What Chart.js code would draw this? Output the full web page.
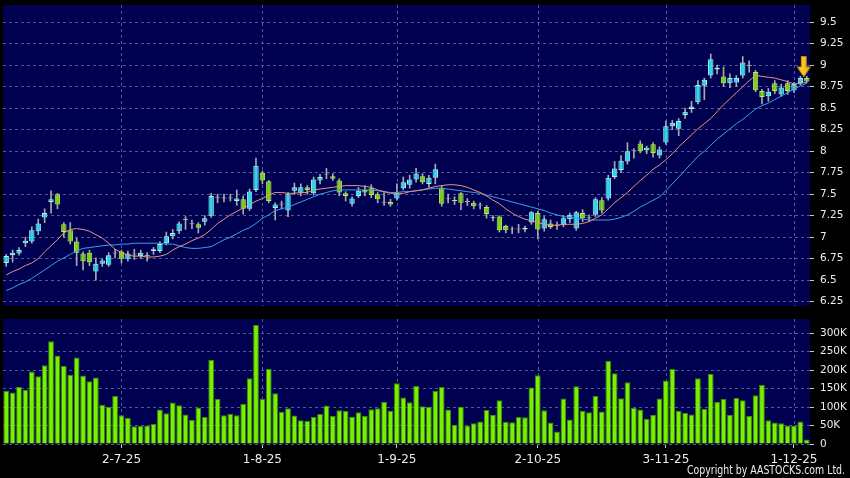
<!DOCTYPE html>
<html>
<head>
<meta charset="utf-8">
<script src="https://cdn.jsdelivr.net/npm/chart.js@4.4.1/dist/chart.umd.min.js"></script>
<style>
  html, body { margin: 0; padding: 0; background: #000; }
  #wrap { position: relative; width: 850px; height: 478px; }
  #top { position: absolute; left: 0; top: 0; width: 850px; height: 312px; }
  #bot { position: absolute; left: 0; top: 312px; width: 850px; height: 166px; }
</style>
</head>
<body>
<div id="wrap">
  <div id="top"><canvas id="priceChart"></canvas></div>
  <div id="bot"><canvas id="volChart"></canvas></div>
</div>
<script>
// trading days per month (2025)
const jun = [5, 6, 9, 10, 11, 12, 13, 16, 17, 18, 19, 20, 23, 24, 25, 26, 27, 30];
const jul = [2, 3, 4, 7, 8, 9, 10, 11, 14, 15, 16, 17, 18, 21, 22, 23, 24, 25, 28, 29, 30, 31];
const aug = [1, 4, 5, 6, 7, 8, 11, 12, 13, 14, 15, 18, 19, 20, 21, 22, 25, 26, 27, 28, 29];
const sep = [1, 2, 3, 4, 5, 8, 9, 10, 11, 12, 15, 16, 17, 18, 19, 22, 23, 24, 25, 26, 29, 30];
const oct = [2, 3, 6, 8, 9, 10, 13, 14, 15, 16, 17, 20, 21, 22, 23, 24, 27, 28, 30, 31];
const nov = [3, 4, 5, 6, 7, 10, 11, 12, 13, 14, 17, 18, 19, 20, 21, 24, 25, 26, 27, 28];
const dec = [1, 2, 3];

const opens = [6.70,6.79,6.81,6.93,6.95,7.07,7.23,7.41,7.50,7.15, 7.08,6.95,6.81,6.82,6.60,6.69,6.68,6.81,6.83,6.75,
  6.80,6.78,6.78,6.84,6.84,6.93,7.01,7.07,7.20,7.15, 7.15,7.18,7.25,7.46,7.45,7.45,7.42,7.44,7.33,7.55,
  7.75,7.65,7.34,7.38,7.31,7.54,7.51,7.58,7.51,7.66, 7.73,7.71,7.66,7.51,7.39,7.48,7.55,7.57,7.50,7.40,
  7.41,7.45,7.57,7.61,7.67,7.71,7.62,7.69,7.57,7.44, 7.43,7.51,7.41,7.40,7.37,7.35,7.22,7.24,7.13,7.09,
  7.09,7.09,7.17,7.28,7.10,7.16,7.13,7.14,7.21,7.10, 7.28,7.22,7.26,7.43,7.45,7.70,7.78,7.88,8.00,8.09,
  8.01,8.08,7.95,8.10,8.29,8.26,8.42,8.49,8.57,8.76, 8.88,8.95,8.87,8.79,8.80,8.88,8.99,8.92,8.70,8.64,
  8.79,8.66,8.79,8.71,8.79,8.85];
const highs = [6.80,6.85,6.88,7.00,7.12,7.21,7.33,7.54,7.51,7.17, 7.17,6.99,6.83,6.85,6.76,6.75,6.82,6.86,6.85,6.84,
  6.86,6.85,6.82,6.88,6.95,7.06,7.09,7.18,7.24,7.20, 7.17,7.25,7.51,7.50,7.50,7.50,7.55,7.48,7.56,7.92,
  7.77,7.66,7.40,7.42,7.52,7.63,7.62,7.60,7.70,7.73, 7.80,7.74,7.68,7.53,7.47,7.58,7.60,7.61,7.52,7.52,
  7.44,7.62,7.70,7.72,7.80,7.74,7.72,7.85,7.60,7.50, 7.47,7.52,7.45,7.42,7.40,7.37,7.25,7.25,7.14,7.12,
  7.15,7.13,7.30,7.30,7.24,7.20,7.18,7.25,7.28,7.30, 7.32,7.26,7.46,7.46,7.72,7.88,7.95,8.10,8.03,8.12,
  8.06,8.10,8.05,8.35,8.36,8.38,8.50,8.58,8.82,8.85, 9.13,9.00,8.98,8.90,8.88,9.10,9.05,8.94,8.72,8.73,
  8.82,8.78,8.82,8.80,8.87,8.87];
const lows = [6.66,6.71,6.79,6.89,6.93,7.03,7.17,7.28,7.33,7.00, 6.92,6.67,6.62,6.67,6.50,6.66,6.66,6.76,6.70,6.72,
  6.74,6.75,6.72,6.80,6.82,6.91,6.98,7.04,7.09,7.10, 7.05,7.14,7.23,7.40,7.41,7.42,7.37,7.27,7.31,7.53,
  7.62,7.40,7.20,7.33,7.24,7.50,7.48,7.50,7.49,7.62, 7.68,7.66,7.48,7.42,7.36,7.46,7.48,7.46,7.40,7.37,
  7.36,7.43,7.55,7.57,7.64,7.62,7.58,7.62,7.36,7.40, 7.38,7.32,7.37,7.33,7.33,7.22,7.19,7.06,7.05,7.04,
  7.05,7.06,7.15,6.98,7.07,7.10,7.09,7.12,7.17,7.08, 7.18,7.18,7.24,7.28,7.43,7.68,7.75,7.85,7.92,7.98,
  7.97,7.93,7.92,8.08,8.25,8.18,8.38,8.45,8.55,8.60, 8.85,8.90,8.75,8.74,8.75,8.85,8.92,8.69,8.55,8.58,
  8.67,8.64,8.66,8.68,8.77,8.80];
const closes = [6.78,6.82,6.85,6.96,7.08,7.16,7.28,7.44,7.38,7.06, 6.95,6.82,6.72,6.71,6.69,6.73,6.79,6.81,6.75,6.81,
  6.80,6.82,6.78,6.86,6.92,7.01,7.05,7.16,7.20,7.15, 7.11,7.22,7.48,7.46,7.46,7.45,7.45,7.33,7.53,7.83,
  7.66,7.42,7.38,7.38,7.50,7.58,7.58,7.55,7.67,7.70, 7.73,7.68,7.52,7.48,7.45,7.54,7.52,7.49,7.44,7.40,
  7.38,7.51,7.64,7.67,7.74,7.64,7.69,7.79,7.39,7.44, 7.42,7.40,7.41,7.36,7.37,7.27,7.23,7.08,7.08,7.09,
  7.09,7.11,7.29,7.09,7.21,7.12,7.13,7.22,7.26,7.29, 7.22,7.22,7.44,7.31,7.69,7.80,7.89,8.00,8.00,8.00,
  8.04,7.98,8.02,8.29,8.33,8.35,8.46,8.52,8.77,8.83, 9.07,8.97,8.79,8.85,8.85,9.03,8.99,8.71,8.63,8.69,
  8.70,8.74,8.70,8.78,8.85,8.81];

// moving averages
const ma10 = [6.56,6.60,6.63,6.67,6.70,6.75,6.83,6.90,6.97,7.05, 7.09,7.10,7.09,7.07,7.03,6.99,6.93,6.86,6.82,6.79,
  6.78,6.78,6.77,6.77,6.78,6.80,6.85,6.89,6.92,6.96, 6.99,7.03,7.09,7.16,7.21,7.26,7.30,7.34,7.38,7.42,
  7.45,7.49,7.52,7.52,7.51,7.51,7.52,7.52,7.55,7.56, 7.57,7.58,7.59,7.60,7.60,7.60,7.59,7.58,7.55,7.53,
  7.51,7.51,7.51,7.53,7.54,7.55,7.57,7.59,7.60,7.61, 7.61,7.60,7.58,7.55,7.52,7.48,7.43,7.39,7.33,7.28,
  7.24,7.21,7.19,7.17,7.15,7.14,7.14,7.15,7.15,7.15, 7.16,7.18,7.22,7.26,7.33,7.40,7.46,7.52,7.59,7.66,
  7.72,7.79,7.84,7.90,7.97,8.05,8.12,8.19,8.26,8.32, 8.38,8.46,8.54,8.61,8.68,8.75,8.82,8.88,8.87,8.86,
  8.85,8.83,8.81,8.78,8.79,8.80];
const ma20 = [6.38,6.41,6.45,6.48,6.52,6.57,6.62,6.67,6.72,6.76, 6.80,6.84,6.87,6.88,6.89,6.90,6.91,6.91,6.92,6.92,
  6.93,6.93,6.93,6.93,6.93,6.92,6.92,6.90,6.88,6.87, 6.87,6.88,6.89,6.93,6.97,7.00,7.04,7.08,7.11,7.16,
  7.22,7.26,7.31,7.33,7.35,7.38,7.41,7.44,7.47,7.50, 7.52,7.54,7.55,7.55,7.55,7.55,7.55,7.55,7.54,7.53,
  7.52,7.52,7.53,7.53,7.54,7.55,7.56,7.57,7.57,7.56, 7.55,7.54,7.53,7.52,7.51,7.49,7.47,7.45,7.43,7.41,
  7.39,7.37,7.35,7.33,7.31,7.28,7.26,7.24,7.23,7.22, 7.21,7.20,7.20,7.20,7.20,7.21,7.23,7.26,7.30,7.35,
  7.39,7.43,7.47,7.54,7.62,7.70,7.78,7.86,7.94,8.00, 8.07,8.14,8.20,8.26,8.32,8.37,8.43,8.49,8.53,8.56,
  8.60,8.64,8.68,8.72,8.76,8.79];

// volume in thousands of shares
const volK = [144,139,155,147,196,183,213,278,239,211, 187,234,185,170,180,106,101,130,78,70,
  48,49,50,54,93,83,112,105,80,65, 99,73,227,122,78,82,78,108,178,322,
  122,203,137,87,97,77,64,62,73,81, 104,76,91,89,74,86,76,94,97,114,
  90,164,126,113,157,102,101,143,154,93, 52,101,50,56,61,92,79,118,60,59,
  73,72,153,186,91,58,34,123,66,156, 90,86,130,88,225,191,124,167,98,93,
  68,79,123,172,203,90,84,80,178,95, 190,114,122,79,125,118,76,132,160,64,
  58,56,50,50,61,12];

const priceTicks = [6.25, 6.5, 6.75, 7, 7.25, 7.5, 7.75, 8, 8.25, 8.5, 8.75, 9, 9.25, 9.5];
const volTicks = [0, 50, 100, 150, 200, 250, 300];
const markerPrice = 8.98;

const months = [[6, jun], [7, jul], [8, aug], [9, sep], [10, oct], [11, nov], [12, dec]];
const labels = [];
const monthStart = new Set();
for (const [m, days] of months) {
  days.forEach((d, k) => {
    if (k === 0 && m !== 6) monthStart.add(labels.length);
    labels.push(d + '-' + m + '-25');
  });
}

const GRID = '#55559a';
const TEXT = '#ececec';
const FONT = 'DejaVu Sans';

const areaBg = {
  id: 'areaBg',
  beforeDraw(chart) {
    const a = chart.chartArea;
    const c = chart.ctx;
    c.save();
    c.fillStyle = '#000050';
    c.fillRect(a.left, a.top, a.right - a.left, a.bottom - a.top);
    c.restore();
  }
};

// dashed vertical line at the first trading day of each month
const monthLines = {
  id: 'monthLines',
  beforeDatasetsDraw(chart) {
    const xs = chart.scales.x;
    const a = chart.chartArea;
    const c = chart.ctx;
    c.save();
    c.strokeStyle = GRID;
    c.lineWidth = 1;
    c.setLineDash([3, 3]);
    for (const i of monthStart) {
      const x = Math.round(xs.getPixelForValue(i)) + 0.5;
      c.beginPath();
      c.moveTo(x, a.top);
      c.lineTo(x, a.bottom);
      c.stroke();
    }
    c.restore();
  }
};

// right-hand axis: fixed width, no extra room for the end labels
function fitRight(s) {
  s.width = 40;
  s.paddingTop = 0;
  s.paddingBottom = 0;
}

function arrowIcon() {
  const cv = document.createElement('canvas');
  cv.width = 20; cv.height = 22;
  const c = cv.getContext('2d');
  const g = c.createLinearGradient(0, 0, 14, 0);
  g.addColorStop(0, '#ffe040');
  g.addColorStop(1, '#f0a800');
  c.fillStyle = g;
  c.strokeStyle = '#c08000';
  c.beginPath();
  c.moveTo(4.5, 0.5); c.lineTo(9.5, 0.5); c.lineTo(9.5, 11); c.lineTo(13.5, 11);
  c.lineTo(7, 21); c.lineTo(0.5, 11); c.lineTo(4.5, 11); c.closePath();
  c.fill(); c.stroke();
  return cv;
}

const bodyColor = opens.map((o, i) => closes[i] > o ? '#2ed6ea' : closes[i] < o ? '#7ccf1e' : '#a8a8a8');
const bodyBorder = opens.map((o, i) => closes[i] > o ? '#a8f4fb' : closes[i] < o ? '#b6ee66' : '#a8a8a8');

new Chart(document.getElementById('priceChart'), {
  type: 'bar',
  data: {
    labels: labels,
    datasets: [
      {
        type: 'line', data: labels.map((l, i) => i === labels.length - 1 ? markerPrice : null),
        showLine: false, pointStyle: arrowIcon(), pointRadius: 10, order: 0
      },
      {
        type: 'line', data: ma10, borderColor: '#e6977a', borderWidth: 1,
        pointRadius: 0, tension: 0, order: 1
      },
      {
        type: 'line', data: ma20, borderColor: '#3c9ef2', borderWidth: 1,
        pointRadius: 0, tension: 0, order: 1
      },
      {
        data: opens.map((o, i) => [o, closes[i]]),
        backgroundColor: bodyColor, borderColor: bodyBorder, borderWidth: 1,
        borderSkipped: false, minBarLength: 1, grouped: false,
        barPercentage: 0.84, categoryPercentage: 1, order: 2
      },
      {
        data: lows.map((l, i) => [l, highs[i]]),
        backgroundColor: '#a8a8a8', barThickness: 1, grouped: false, order: 3
      }
    ]
  },
  options: {
    responsive: true,
    maintainAspectRatio: false,
    animation: false,
    devicePixelRatio: 1,
    layout: { autoPadding: false, padding: { left: 3, top: 5, right: 0, bottom: 6 } },
    plugins: { legend: { display: false }, tooltip: { enabled: false } },
    scales: {
      x: { display: false, offset: true },
      y: {
        position: 'right',
        min: 6.2,
        max: 9.7,
        afterBuildTicks: s => { s.ticks = priceTicks.map(v => ({ value: v })); },
        grid: { color: GRID, tickColor: '#c8c8c8', tickLength: 4 },
        border: { display: false, dash: [3, 3] },
        ticks: {
          padding: 6, color: TEXT,
          font: { family: FONT, size: 10.5 },
          callback: v => String(v)
        },
        afterFit: fitRight
      }
    }
  },
  plugins: [areaBg, monthLines]
});

new Chart(document.getElementById('volChart'), {
  type: 'bar',
  data: {
    labels: labels,
    datasets: [{
      data: volK,
      backgroundColor: '#78f000',
      borderColor: '#3a8c00',
      borderWidth: 1,
      barPercentage: 0.9,
      categoryPercentage: 1
    }]
  },
  options: {
    responsive: true,
    maintainAspectRatio: false,
    animation: false,
    devicePixelRatio: 1,
    layout: { autoPadding: false, padding: { left: 3, top: 7, right: 0, bottom: 0 } },
    plugins: { legend: { display: false }, tooltip: { enabled: false } },
    scales: {
      x: {
        offset: true,
        grid: {
          offset: false, drawOnChartArea: false, tickLength: 4,
          tickColor: ctx => monthStart.has(ctx.index) ? '#c8c8c8' : 'rgba(0,0,0,0)'
        },
        border: { display: false },
        ticks: {
          autoSkip: false, maxRotation: 0, minRotation: 0, padding: 5,
          color: TEXT, font: { family: FONT, size: 12 },
          callback: (v, i) => monthStart.has(i) ? labels[i] : ''
        },
        afterFit: s => { s.height = 34; }
      },
      y: {
        position: 'right',
        min: 0,
        max: 338,
        afterBuildTicks: s => { s.ticks = volTicks.map(v => ({ value: v })); },
        grid: { color: GRID, tickColor: '#c8c8c8', tickLength: 4 },
        border: { display: false, dash: [3, 3] },
        ticks: {
          padding: 6, color: TEXT,
          font: { family: FONT, size: 10.5 },
          callback: v => v === 0 ? '0' : v + 'K'
        },
        afterFit: fitRight
      }
    }
  },
  plugins: [areaBg, monthLines, {
    id: 'copyright',
    afterDraw(chart) {
      const c = chart.ctx;
      c.save();
      c.font = '12px ' + FONT;
      c.fillStyle = TEXT;
      c.textAlign = 'right';
      c.textBaseline = 'middle';
      c.fillText('Copyright by AASTOCKS.com Ltd.', 845, 159, 158);
      c.restore();
    }
  }]
});
</script>
</body>
</html>
